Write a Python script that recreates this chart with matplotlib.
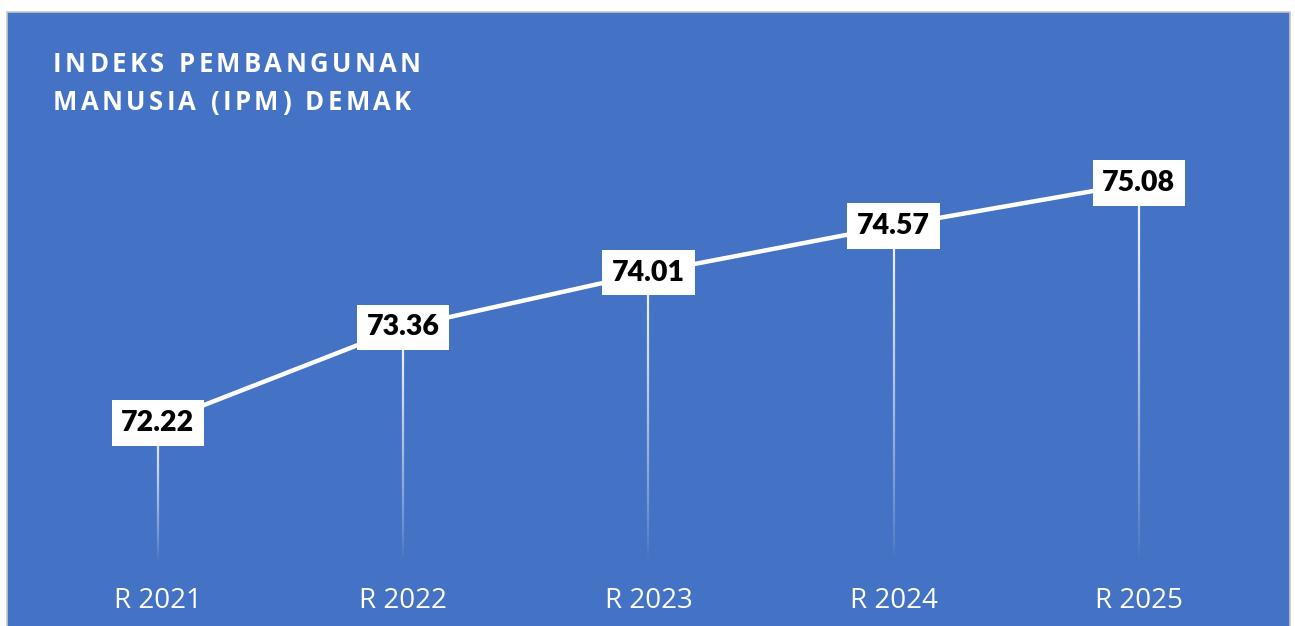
import matplotlib
matplotlib.use("Agg")
import matplotlib.pyplot as plt
import numpy as np
from matplotlib.patches import Rectangle
from matplotlib.collections import LineCollection

categories = ["R 2021", "R 2022", "R 2023", "R 2024", "R 2025"]
values = [72.22, 73.36, 74.01, 74.57, 75.08]
title_lines = ["INDEKS PEMBANGUNAN", "MANUSIA (IPM) DEMAK"]

W, H = 1295, 626
BLUE = "#4472C4"
fig = plt.figure(figsize=(W / 100, H / 100), dpi=100)
fig.patch.set_facecolor("white")

ax = fig.add_axes([0, 0, 1, 1])
ax.set_facecolor("none")
for s in ax.spines.values():
    s.set_visible(False)
ax.set_xticks([])
ax.set_yticks([])

# blue panel
ax.add_patch(Rectangle((7 / W, -0.01), (1290 - 7) / W, (H - 12) / H + 0.01,
                       transform=ax.transAxes, facecolor=BLUE,
                       edgecolor="#C8C8C8", linewidth=1.2, zorder=0))

# pixel mapping
x0, dx = 158, 245.2
yref, vref, ppu = 423, 72.22, 83.9
ax.set_xlim(-x0 / dx, (W - x0) / dx)
ax.set_ylim(vref - (H - yref) / ppu, vref + yref / ppu)
base = vref - (562 - yref) / ppu

xs = np.arange(len(values))

# drop lines with fading gradient
for x, v in zip(xs, values):
    n = 60
    ys = np.linspace(v, base, n + 1)
    segs = [[(x, ys[i]), (x, ys[i + 1])] for i in range(n)]
    alphas = np.linspace(0.95, 0.0, n) ** 0.8
    cols = [(1, 1, 1, a) for a in alphas]
    ax.add_collection(LineCollection(segs, colors=cols, linewidths=1.6, zorder=2))

ax.plot(xs, values, color="white", linewidth=3.2, solid_capstyle="butt", zorder=3)

for x, v in zip(xs, values):
    ax.text(x, v, f"{v:.2f}", ha="center", va="center", fontsize=20.5,
            fontweight="heavy", family="Lato", color="black", zorder=5,
            bbox=dict(boxstyle="square,pad=0.34", facecolor="white", edgecolor="none"))

for x, c in zip(xs, categories):
    ax.text(x, vref - (601 - yref) / ppu, c, ha="center", va="center",
            fontsize=20, family="Open Sans", color="white", zorder=5)

# title with letter spacing
renderer = fig.canvas.get_renderer()
spacing = 3.3
for li, line in enumerate(title_lines):
    xpix = 53
    ypix = H - (72 + li * 38)
    for ch in line:
        t = ax.text(xpix / W, ypix / H, ch, fontsize=18.5, fontweight="bold",
                    family="Open Sans", color="white", ha="left", va="baseline",
                    transform=ax.transAxes, zorder=5)
        if ch == " ":
            w = 8
        else:
            w = t.get_window_extent(renderer).width
        xpix += w + spacing

fig.savefig("out.png", dpi=100)
